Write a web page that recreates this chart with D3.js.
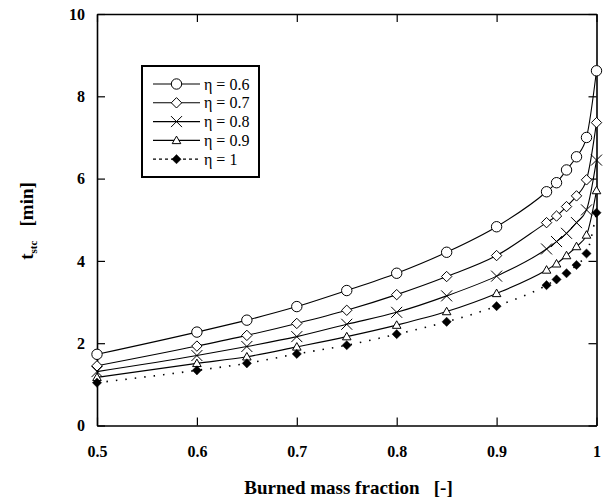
<!DOCTYPE html>
<html>
<head>
<meta charset="utf-8">
<script src="https://cdn.jsdelivr.net/npm/d3@7"></script>
<style>
  html, body { margin: 0; padding: 0; background: #fff; }
  svg { display: block; }
</style>
</head>
<body>
<svg id="chart" width="603" height="499"></svg>
<script>
// ---- data ----
const burnedFraction = [0.5, 0.6, 0.65, 0.7, 0.75, 0.8, 0.85, 0.9, 0.95, 0.96, 0.97, 0.98, 0.99, 1.0];
const eta06 = [1.73, 2.27, 2.56, 2.89, 3.28, 3.70, 4.21, 4.83, 5.68, 5.90, 6.21, 6.53, 7.00, 8.62];
const eta07 = [1.45, 1.93, 2.19, 2.48, 2.80, 3.18, 3.62, 4.13, 4.93, 5.09, 5.32, 5.58, 5.97, 7.36];
const eta08 = [1.31, 1.70, 1.92, 2.16, 2.46, 2.75, 3.15, 3.63, 4.29, 4.47, 4.67, 4.93, 5.24, 6.45];
const eta09 = [1.17, 1.51, 1.67, 1.91, 2.16, 2.44, 2.77, 3.21, 3.78, 3.93, 4.13, 4.35, 4.63, 5.71];
const eta10 = [1.04, 1.34, 1.51, 1.74, 1.95, 2.22, 2.52, 2.90, 3.41, 3.55, 3.70, 3.90, 4.18, 5.17];
const seriesNames = ["η = 0.6", "η = 0.7", "η = 0.8", "η = 0.9", "η = 1"];
const xTicks = [0.5, 0.6, 0.7, 0.8, 0.9, 1];
const xTickLabels = ["0.5", "0.6", "0.7", "0.8", "0.9", "1"];
const yTicks = [0, 2, 4, 6, 8, 10];
const yTickLabels = ["0", "2", "4", "6", "8", "10"];
const xTitle = "Burned mass fraction   [-]";

// ---- layout ----
const svg = d3.select("#chart");
const L = 97, R = 596.5, T = 14, B = 425.5;
const x = d3.scaleLinear().domain([0.5, 1]).range([L, R]);
const y = d3.scaleLinear().domain([0, 10]).range([B, T]);
const FONT = '"Liberation Serif", "Times New Roman", serif';

const series = [
  { name: seriesNames[0], values: eta06, marker: "circle", dash: null },
  { name: seriesNames[1], values: eta07, marker: "diamond", dash: null },
  { name: seriesNames[2], values: eta08, marker: "cross", dash: null },
  { name: seriesNames[3], values: eta09, marker: "triangle", dash: null },
  { name: seriesNames[4], values: eta10, marker: "filldiamond", dash: "1.5,8" }
];

// ---- axes ----
const tickLen = 8;
const axB = svg.append("g").attr("transform", `translate(0,${B})`)
  .call(d3.axisBottom(x).tickValues(xTicks).tickFormat((d, i) => xTickLabels[i])
    .tickSizeInner(-tickLen).tickSizeOuter(0).tickPadding(20));
const axT = svg.append("g").attr("transform", `translate(0,${T})`)
  .call(d3.axisTop(x).tickValues(xTicks).tickFormat("").tickSizeInner(-tickLen).tickSizeOuter(0));
const axL = svg.append("g").attr("transform", `translate(${L},0)`)
  .call(d3.axisLeft(y).tickValues(yTicks).tickFormat((d, i) => yTickLabels[i])
    .tickSizeInner(-tickLen).tickSizeOuter(0).tickPadding(12));
const axR = svg.append("g").attr("transform", `translate(${R},0)`)
  .call(d3.axisRight(y).tickValues(yTicks).tickFormat("").tickSizeInner(-tickLen).tickSizeOuter(0));

[axB, axT, axL, axR].forEach(g => {
  g.attr("font-family", null).attr("font-size", null);
  g.select(".domain").attr("stroke", "#000").attr("stroke-width", 1.6);
  g.selectAll(".tick line").attr("stroke", "#000").attr("stroke-width", 1.2);
  g.selectAll("text").style("font-family", FONT).style("font-weight", "bold")
    .style("font-size", "16px").attr("fill", "#000");
});

// ---- lines ----
const line = d3.line().x((d, i) => x(burnedFraction[i])).y(d => y(d)).curve(d3.curveMonotoneX);
const plot = svg.append("g");
series.forEach(s => {
  plot.append("path").datum(s.values)
    .attr("d", line)
    .attr("fill", "none").attr("stroke", "#000")
    .attr("stroke-width", s.dash ? 1.6 : 1.1)
    .attr("stroke-dasharray", s.dash);
});

// ---- markers ----
function drawMarker(g, type, cx, cy) {
  if (type === "circle") {
    g.append("circle").attr("cx", cx).attr("cy", cy).attr("r", 5.2)
      .attr("fill", "#fff").attr("stroke", "#000").attr("stroke-width", 1);
  } else if (type === "diamond") {
    const s = 5.2;
    g.append("path").attr("d", `M${cx},${cy - s}L${cx + s},${cy}L${cx},${cy + s}L${cx - s},${cy}Z`)
      .attr("fill", "#fff").attr("stroke", "#000").attr("stroke-width", 1);
  } else if (type === "cross") {
    const s = 5.5;
    g.append("path").attr("d", `M${cx - s},${cy - s}L${cx + s},${cy + s}M${cx - s},${cy + s}L${cx + s},${cy - s}`)
      .attr("fill", "none").attr("stroke", "#000").attr("stroke-width", 1);
  } else if (type === "triangle") {
    const s = 4.3;
    g.append("path").attr("d", `M${cx},${cy - s}L${cx + s},${cy + s * 0.75}L${cx - s},${cy + s * 0.75}Z`)
      .attr("fill", "#fff").attr("stroke", "#000").attr("stroke-width", 1);
  } else if (type === "filldiamond") {
    const s = 4.6;
    g.append("path").attr("d", `M${cx},${cy - s}L${cx + s},${cy}L${cx},${cy + s}L${cx - s},${cy}Z`)
      .attr("fill", "#000").attr("stroke", "#000").attr("stroke-width", 0.5);
  }
}
series.forEach(s => {
  const g = plot.append("g");
  s.values.forEach((v, i) => drawMarker(g, s.marker, x(burnedFraction[i]), y(v)));
});

// ---- legend ----
const lg = svg.append("g");
lg.append("rect").attr("x", 142).attr("y", 66).attr("width", 117).attr("height", 111)
  .attr("fill", "#fff").attr("stroke", "#000").attr("stroke-width", 2);
series.forEach((s, i) => {
  const ly = 84 + i * 18.8;
  lg.append("line").attr("x1", 153).attr("x2", 200).attr("y1", ly).attr("y2", ly)
    .attr("stroke", "#000").attr("stroke-width", s.dash ? 1.3 : 1.1)
    .attr("stroke-dasharray", s.dash ? "3,3" : null);
  drawMarker(lg, s.marker, 176.5, ly);
  lg.append("text").attr("x", 204).attr("y", ly + 5.5).text(s.name)
    .style("font-family", FONT).style("font-size", "16px").attr("fill", "#000");
});

// ---- titles ----
svg.append("text").attr("x", 348.5).attr("y", 494).attr("text-anchor", "middle")
  .style("font-family", FONT).style("font-weight", "bold").style("font-size", "19px")
  .style("white-space", "pre")
  .text(xTitle);

const yt = svg.append("text").attr("transform", "translate(32.5,221) rotate(-90)")
  .attr("text-anchor", "middle")
  .style("font-family", FONT).style("font-weight", "bold").style("font-size", "19px")
  .style("white-space", "pre");
yt.append("tspan").text("t");
yt.append("tspan").style("font-size", "11px").attr("dy", 4).text("stc");
yt.append("tspan").attr("dy", -4).text("   [min]");
</script>
</body>
</html>
